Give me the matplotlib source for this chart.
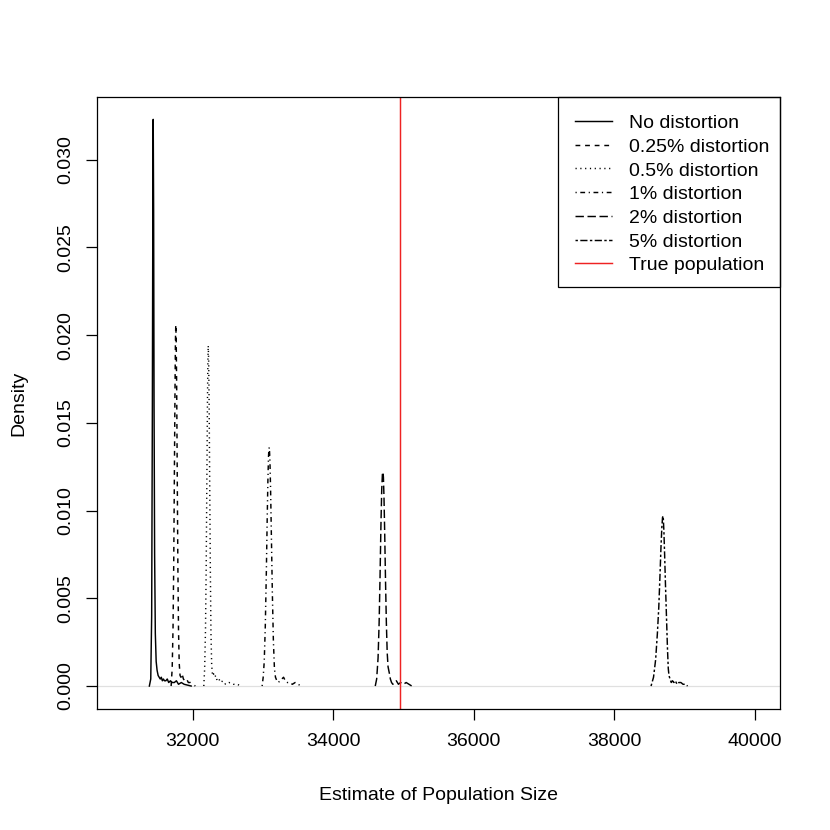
import matplotlib
matplotlib.use("Agg")
import matplotlib.pyplot as plt
from matplotlib.patches import Rectangle
from matplotlib.lines import Line2D

plt.rcParams['font.family'] = ['Liberation Sans', 'DejaVu Sans']
plt.rcParams['lines.scale_dashes'] = False

# density curves (estimate, density)
nd_x = [31385, 31405, 31418, 31428, 31435, 31440, 31446, 31452, 31460, 31470, 31482, 31495,
        31510, 31525, 31540, 31555, 31570, 31585, 31600, 31620, 31640, 31660, 31685, 31710,
        31740, 31770, 31800, 31840, 31880, 31930, 31980]
nd_y = [0, 0.0004, 0.0040, 0.0160, 0.0280, 0.0323, 0.0270, 0.0160, 0.0075, 0.0030, 0.0014, 0.0009,
        0.0006, 0.0005, 0.0004, 0.0005, 0.0003, 0.0004, 0.0003, 0.0003, 0.0004, 0.0002, 0.0003, 0.0002,
        0.0002, 0.0003, 0.0001, 0.0002, 0.0001, 0.00005, 0]

q_x = [31695, 31710, 31722, 31732, 31742, 31750, 31756, 31761, 31767, 31774, 31782, 31791,
       31800, 31810, 31822, 31835, 31850, 31870, 31890, 31915, 31940, 31970, 32000, 32040]
q_y = [0, 0.0010, 0.0033, 0.0070, 0.0125, 0.0168, 0.0196, 0.0206, 0.0198, 0.0170, 0.0120, 0.0068,
       0.0032, 0.0013, 0.0006, 0.0005, 0.0007, 0.0004, 0.0003, 0.0004, 0.0002, 0.0002, 0.0001, 0]

h_x = [32160, 32172, 32184, 32194, 32204, 32212, 32218, 32223, 32229, 32236, 32244, 32253,
       32262, 32272, 32284, 32298, 32312, 32330, 32350, 32375, 32400, 32430, 32470, 32520,
       32580, 32640, 32680]
h_y = [0, 0.0010, 0.0032, 0.0068, 0.0120, 0.0162, 0.0185, 0.0194, 0.0186, 0.0160, 0.0115, 0.0066,
       0.0030, 0.0012, 0.0006, 0.0007, 0.0005, 0.0006, 0.0003, 0.0004, 0.0002, 0.0003, 0.0001,
       0.0002, 0.0001, 0.0001, 0]

o_x = [32990, 33005, 33020, 33035, 33050, 33062, 33072, 33080, 33086, 33092, 33100, 33110,
       33122, 33135, 33150, 33165, 33180, 33200, 33220, 33245, 33270, 33295, 33320, 33350,
       33380, 33420, 33460, 33500, 33550]
o_y = [0, 0.0005, 0.0014, 0.0034, 0.0065, 0.0095, 0.0117, 0.0130, 0.0135, 0.0136, 0.0130, 0.0113,
       0.0085, 0.0054, 0.0026, 0.0010, 0.0005, 0.0003, 0.0002, 0.0003, 0.0004, 0.0005, 0.0003, 0.0002,
       0.0002, 0.0001, 0.0002, 0.0001, 0]

t_x = [34600, 34620, 34640, 34655, 34668, 34680, 34692, 34702, 34710, 34716, 34724, 34734,
       34746, 34758, 34770, 34782, 34792, 34802, 34815, 34832, 34850, 34875, 34900, 34930,
       34960, 35000, 35040, 35080, 35120]
t_y = [0, 0.0004, 0.0016, 0.0036, 0.0062, 0.0090, 0.0112, 0.0121, 0.0122, 0.0119, 0.0108, 0.0088,
       0.0060, 0.0036, 0.0019, 0.0011, 0.0009, 0.0007, 0.0004, 0.0002, 0.0001, 0.0002, 0.0003, 0.0001,
       0.0002, 0.0001, 0.0002, 0.0001, 0]

f_x = [38525, 38560, 38590, 38615, 38635, 38652, 38666, 38678, 38688, 38694, 38700, 38708,
       38718, 38730, 38744, 38758, 38770, 38780, 38795, 38812, 38830, 38850, 38870, 38895,
       38920, 38950, 38980, 39010, 39045]
f_y = [0, 0.0005, 0.0015, 0.0030, 0.0045, 0.0063, 0.0079, 0.0090, 0.0096, 0.0097, 0.0095, 0.0088,
       0.0075, 0.0058, 0.0040, 0.0022, 0.0010, 0.0006, 0.0004, 0.0002, 0.0003, 0.0002, 0.0003, 0.0001,
       0.0002, 0.0002, 0.0001, 0.0001, 0]

true_pop = 34950
labels = ["No distortion", "0.25% distortion", "0.5% distortion", "1% distortion",
          "2% distortion", "5% distortion", "True population"]

# R line types (lty 1..6) in points
u = 0.864
styles = [None, (0, (4*u, 4*u)), (0, (1*u, 3*u)), (0, (1*u, 3*u, 4*u, 3*u)),
          (0, (7*u, 3*u)), (0, (2*u, 2*u, 6*u, 2*u))]
series = [(nd_x, nd_y), (q_x, q_y), (h_x, h_y), (o_x, o_y), (t_x, t_y), (f_x, f_y)]
lw = 1.05

W = 830
fig = plt.figure(figsize=(8.3, 8.3), dpi=100)
ax = fig.add_axes([97/W, 1-708.7/W, (780-97)/W, (708.7-96.7)/W])

ax.axhline(0, color='#e0e0e0', lw=0.9)
for (xs, ys), ls in zip(series, styles):
    if ls is None:
        ax.plot(xs, ys, color='black', lw=lw, solid_joinstyle='round')
    else:
        ax.plot(xs, ys, color='black', lw=lw, linestyle=ls)
ax.axvline(true_pop, color='#ee2222', lw=lw)

ymax = max(nd_y)
ax.set_xlim(31000 - 360, 40000 + 360)
ax.set_ylim(-0.04*ymax, 1.04*ymax)
ax.set_xticks([32000, 34000, 36000, 38000, 40000])
ax.set_yticks([0, 0.005, 0.010, 0.015, 0.020, 0.025, 0.030])
ax.set_yticklabels(["0.000", "0.005", "0.010", "0.015", "0.020", "0.025", "0.030"],
                   rotation=90, va='center')
ax.tick_params(axis='both', length=8, width=0.9, labelsize=14, direction='out')
ax.tick_params(axis='x', pad=9.5)
ax.tick_params(axis='y', pad=8.5)
for s in ax.spines.values():
    s.set_linewidth(0.9)

fig.text(438.5/W, 1-800/W, "Estimate of Population Size", ha='center', va='baseline', fontsize=14)
fig.text(23/W, 1-403/W, "Density", ha='center', va='baseline', fontsize=14,
         rotation=90, rotation_mode='anchor')

# legend box, top right
def P(x, y):
    return x/W, 1-y/W

lx0, ly0, lx1, ly1 = 558, 97, 780, 287.5
fig.add_artist(Rectangle(P(lx0, ly1), (lx1-lx0)/W, (ly1-ly0)/W, transform=fig.transFigure,
                         fill=False, edgecolor='black', lw=0.9))
rows = [121, 145, 168.5, 192, 216, 240, 263.5]
for i, (lab, ry) in enumerate(zip(labels, rows)):
    if i < 6:
        col = 'black'
        ls = styles[i] if styles[i] is not None else '-'
    else:
        col = '#ee2222'
        ls = '-'
    (x0, y0), (x1, _) = P(575, ry), P(612, ry)
    fig.add_artist(Line2D([x0, x1], [y0, y0], transform=fig.transFigure, color=col, lw=lw, linestyle=ls))
    tx, ty = P(629, ry + 7)
    fig.text(tx, ty, lab, ha='left', va='baseline', fontsize=14)

fig.savefig("out.png", dpi=100)
